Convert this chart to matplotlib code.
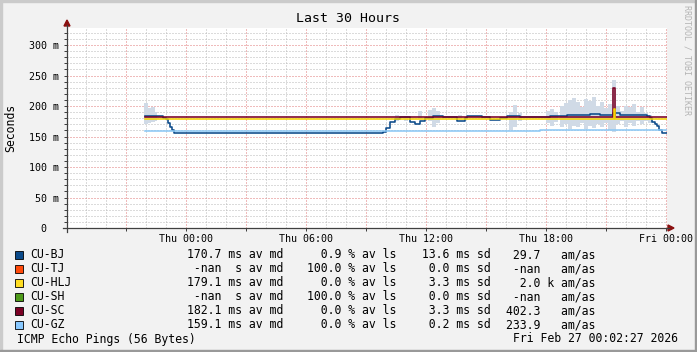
import matplotlib
matplotlib.use("Agg")
import matplotlib.pyplot as plt
from matplotlib.patches import Rectangle, Polygon
from matplotlib.lines import Line2D

plt.rcParams['font.family'] = ['DejaVu Sans Mono']

# ---- data (time in hours relative to Thu 00:00, values in ms) ----
bj_t = [-2.05, -1.55, -1.15, -1.0, -0.9, -0.8, -0.7, -0.6, 9.85, 10.0, 10.2, 10.45, 10.7,
        11.2, 11.45, 11.7, 11.95, 12.35, 12.85, 13.55, 13.95, 14.05, 14.8, 15.2, 15.7,
        16.05, 16.35, 16.7, 18.2, 19.05, 20.2, 20.7, 21.35, 21.7, 23.05, 23.2, 23.3,
        23.45, 23.55, 23.65, 23.8, 24.04]
bj_v = [184, 183, 181, 178, 172, 166, 160, 156, 157, 164, 174, 178, 181.5,
        174, 170, 176, 181, 184, 182.5, 176, 181, 184, 182, 177, 181,
        184, 183, 181.5, 184, 186, 187, 186, 188, 185, 183, 180, 174,
        171, 167, 160, 156, 156]

# smoke (time, low, high) around CU-BJ
smoke_t = [-2.0, -1.85, -1.65, -1.55, 10.55, 11.0, 11.7, 12.2, 12.4, 12.6, 13.7,
           16.25, 16.45, 16.7, 18.1, 18.3, 18.5, 18.8, 19.0, 19.2, 19.4, 19.6, 19.8,
           20.0, 20.2, 20.4, 20.6, 20.8, 21.0, 21.2, 21.4, 21.6, 21.8, 22.0, 22.2,
           22.4, 22.6, 22.8, 23.0, 23.2]
smoke_lo = [170, 172, 174, 176, 176, 176, 178, 176, 165, 172, 178,
            160, 165, 175, 172, 168, 174, 165, 170, 162, 168, 165, 172,
            163, 168, 164, 170, 166, 172, 160, 158, 170, 175, 165, 172,
            168, 176, 170, 176, 172]
smoke_hi = [205, 197, 198, 190, 186, 183, 192, 194, 197, 192, 185,
            190, 201, 188, 192, 195, 190, 200, 205, 210, 213, 206, 198,
            212, 208, 214, 200, 206, 196, 204, 243, 200, 192, 200, 198,
            204, 190, 198, 188, 186]

hlj_t = [-2.05, 21.38, 21.42, 24.04]
hlj_v = [178, 195, 178, 178]
sc_t = [-2.05, 21.36, 21.44, 24.04]
sc_v = [181.5, 229, 181.5, 181.5]
gz_t = [-2.05, 13.95, 17.7, 24.04]
gz_v = [158.5, 159.5, 160, 160]

names = ['CU-BJ', 'CU-TJ', 'CU-HLJ', 'CU-SH', 'CU-SC', 'CU-GZ']
colors = ['#0b4a8a', '#ff4a0a', '#ffdd22', '#4e9a1a', '#7a0024', '#88c8ff']
avg = ['170.7', '-nan', '179.1', '-nan', '182.1', '159.1']
avg_pfx = ['m', ' ', 'm', ' ', 'm', 'm']
loss = [0.9, 100.0, 0.0, 100.0, 0.0, 0.0]
sd = [13.6, 0.0, 3.3, 0.0, 3.3, 0.2]
amas = ['29.7', '-nan', '2.0', '-nan', '402.3', '233.9']
amas_pfx = [' ', ' ', 'k', ' ', ' ', ' ']

y_ticks = [0, 50, 100, 150, 200, 250, 300]
y_labels = ['0  ', '50 m', '100 m', '150 m', '200 m', '250 m', '300 m']
x_ticks = [0, 6, 12, 18, 24]
x_labels = ['Thu 00:00', 'Thu 06:00', 'Thu 12:00', 'Thu 18:00', 'Fri 00:00']

W, H = 697, 352
fig = plt.figure(figsize=(W / 100, H / 100), dpi=100, facecolor='#f2f2f2')


def fx(px):
    return px / W


def fy(py):
    return 1 - py / H


ax = fig.add_axes([fx(67), fy(228), 600 / W, 200 / H])
ax.set_facecolor('white')
ax.set_xlim(-5.96, 24.04)
ax.set_ylim(0, 327.9)

# dotted grid
dot = (0, (1, 2))
for h in range(-5, 25):
    if h % 3:
        ax.axvline(h, color='#b8b8b8', lw=0.72, ls=dot, zorder=0.5)
for v in range(10, 330, 10):
    if v % 50:
        ax.axhline(v, color='#b8b8b8', lw=0.72, ls=dot, zorder=0.5)
for h in range(-3, 25, 3):
    ax.axvline(h, color='#e07878', lw=0.72, ls=dot, zorder=0.6)
for v in range(50, 330, 50):
    ax.axhline(v, color='#e07878', lw=0.72, ls=dot, zorder=0.6)

# smoke + median lines
ax.bar(smoke_t, [h - l for h, l in zip(smoke_hi, smoke_lo)], bottom=smoke_lo,
       width=0.2, color='#d0dae6', linewidth=0, zorder=1)
ax.plot(bj_t, bj_v, drawstyle='steps-post', color=colors[0], lw=1.15, zorder=2)
ax.plot(sc_t, sc_v, drawstyle='steps-post', color=colors[4], lw=1.15, zorder=3)
ax.plot(hlj_t, hlj_v, drawstyle='steps-post', color='#f5d000', lw=1.15, zorder=4)
ax.plot(gz_t, gz_v, drawstyle='steps-post', color='#8cc8f5', lw=1.15, zorder=5)

for s in ax.spines.values():
    s.set_visible(False)
ax.set_xticks(x_ticks)
ax.set_xticklabels(x_labels)
ax.set_xticks(range(-3, 25, 3), minor=True)
ax.set_yticks(y_ticks)
ax.set_yticklabels(y_labels)
ax.set_yticks(range(0, 330, 10), minor=True)
ax.tick_params(axis='both', which='both', direction='out', color='#404040',
               width=0.72, labelsize=7.2)
ax.tick_params(axis='x', which='both', length=2, pad=2)
ax.tick_params(axis='y', which='both', length=2, pad=4)

# axes with arrows
fig.add_artist(Line2D([fx(63), fx(669)], [fy(228), fy(228)], color='#404040', lw=0.9))
fig.add_artist(Line2D([fx(67), fx(67)], [fy(232), fy(25)], color='#404040', lw=0.9))
fig.add_artist(Polygon([[fx(668), fy(225)], [fx(674), fy(228)], [fx(668), fy(231)]],
                       closed=True, color='#8b1010', transform=fig.transFigure))
fig.add_artist(Polygon([[fx(64), fy(26)], [fx(67), fy(20)], [fx(70), fy(26)]],
                       closed=True, color='#8b1010', transform=fig.transFigure))

# texts
fig.text(fx(348), fy(19), 'Last 30 Hours', fontsize=9.5, ha='center', va='center')
fig.text(fx(10.7), fy(128), 'Seconds', fontsize=8.3, rotation=90, ha='center', va='center')
fig.text(fx(686.5), fy(60), 'RRDTOOL / TOBI OETIKER', fontsize=6, rotation=270,
         ha='center', va='center', color='#b4b4b4')

# legend
for i, name in enumerate(names):
    yc = 254.5 + 14 * i
    fig.add_artist(Rectangle((fx(15), fy(yc + 4)), 8 / W, 8 / H, facecolor=colors[i],
                             edgecolor='black', lw=0.6, transform=fig.transFigure))
    yb = fy(yc + 4)
    fig.text(fx(30), yb, name, fontsize=8.3, va='baseline')
    fig.text(fx(186.7), yb, '%5s %ss av md' % (avg[i], avg_pfx[i]), fontsize=8.3, va='baseline')
    fig.text(fx(306.7), yb, '%5.1f %% av ls' % loss[i], fontsize=8.3, va='baseline')
    fig.text(fx(414.8), yb, '%5.1f ms sd' % sd[i], fontsize=8.3, va='baseline')
    fig.text(fx(505.7), yb, '%5s %s am/as' % (amas[i], amas_pfx[i]), fontsize=8.3, va='baseline')

fig.text(fx(16.7), fy(338.5 + 4), 'ICMP Echo Pings (56 Bytes)', fontsize=8.3, va='baseline')
fig.text(fx(513.3), fy(338.5 + 4), 'Fri Feb 27 00:02:27 2026', fontsize=8.3, va='baseline')

# 3d frame
fig.add_artist(Rectangle((0, fy(2)), 1, 2 / H, color='#cbcbcb', transform=fig.transFigure))
fig.add_artist(Rectangle((0, 0), 2 / W, 1, color='#cbcbcb', transform=fig.transFigure))
fig.add_artist(Rectangle((0, 0), 1, 2 / H, color='#999999', transform=fig.transFigure))
fig.add_artist(Rectangle((fx(695), 0), 2 / W, 1, color='#999999', transform=fig.transFigure))

fig.savefig('out.png', dpi=100, facecolor=fig.get_facecolor())
